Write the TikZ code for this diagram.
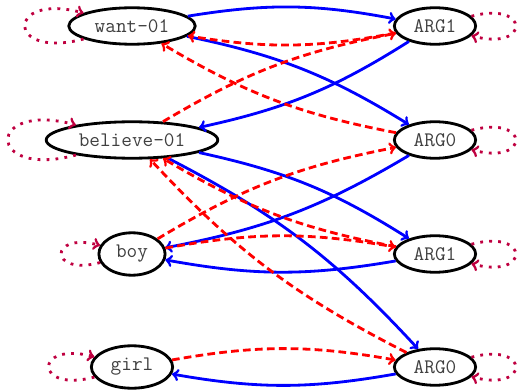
\documentclass[tikz,border=0pt]{standalone}
\usetikzlibrary{shapes.geometric}
\begin{document}
\begin{tikzpicture}[
        amr/.style={ellipse,draw,line width=2pt,inner xsep=5.3pt,inner ysep=4.5pt,
            font=\ttfamily\fontsize{14.7}{17}\selectfont,text=black!75},
        align/.style={blue,line width=2pt},
        attn/.style={red,line width=2pt,dash pattern=on 5.5pt off 3pt},
        self/.style={purple,line width=2pt,dash pattern=on 2pt off 4.4pt}]
            \useasboundingbox(0,0)rectangle(12.925,9.75);
            % left column
            \node[amr](want)at(3.3,9.1){want-01};
            \node[amr](believe)at(3.3,6.25){believe-01};
            \node[amr](boy)at(3.3,3.4){boy};
            \node[amr](girl)at(3.3,0.575){girl};
            % right column
            \node[amr](arg1a)at(10.875,9.1){ARG1};
            \node[amr](arg0a)at(10.875,6.25){ARG0};
            \node[amr](arg1b)at(10.875,3.4){ARG1};
            \node[amr](arg0b)at(10.875,0.575){ARG0};
            % solid links
            \draw[align,->](want)to[bend left=10](arg1a);
            \draw[align,->](want)to[bend left=10](arg0a);
            \draw[align,->](arg1a)to[bend left=10](believe);
            \draw[align,->](believe)to[bend left=10](arg1b);
            \draw[align,->](believe)to[bend left=10](arg0b);
            \draw[align,->](arg0a)to[bend left=10](boy);
            \draw[align,->](arg1b)to[bend left=10](boy);
            \draw[align,->](arg0b)to[bend left=10](girl);
            % dashed links
            \draw[attn,->](arg1a)to[bend left=10](want);
            \draw[attn,->](believe)to[bend left=10](arg1a);
            \draw[attn,->](arg0a)to[bend left=10](want);
            \draw[attn,->](boy)to[bend left=10](arg0a);
            \draw[attn,->](boy)to[bend left=10](arg1b);
            \draw[attn,->](arg1b)to[bend left=10](believe);
            \draw[attn,->](arg0b)to[bend left=10](believe);
            \draw[attn,->](girl)to[bend left=10](arg0b);
            % self loops
            \foreach \n in {want,believe,boy,girl}
                \draw[self,->](\n)to[loop left](\n);
            \foreach \n in {arg1a,arg0a,arg1b,arg0b}
                \draw[self,->](\n)to[loop right](\n);
        \end{tikzpicture}
\end{document}
